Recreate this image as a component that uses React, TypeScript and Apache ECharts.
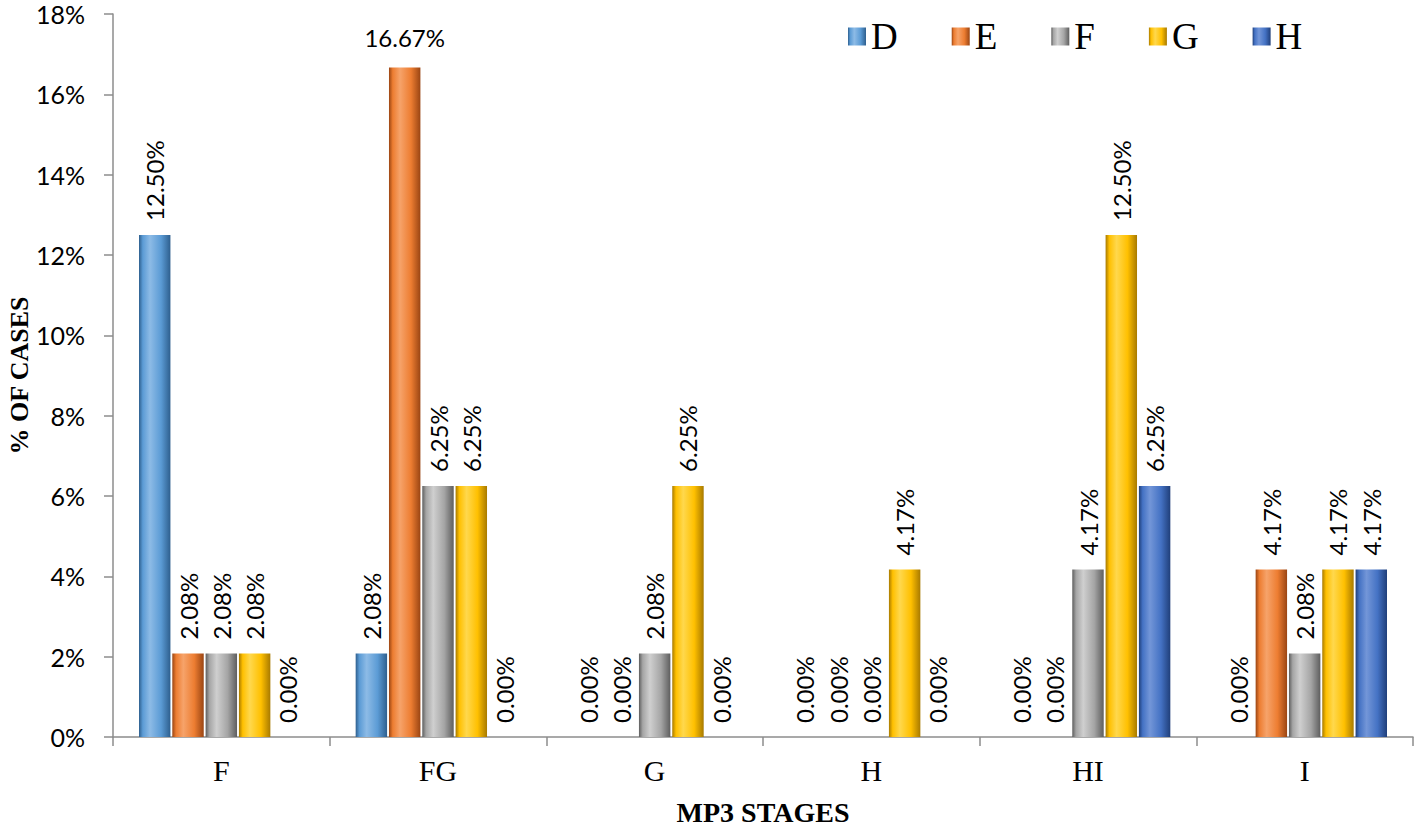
import React, { useEffect, useRef } from "react";
import * as echarts from "echarts";

const categories = ["F", "FG", "G", "H", "HI", "I"];
const seriesNames = ["D", "E", "F", "G", "H"];
const dValues = [12.5, 2.08, 0, 0, 0, 0];
const eValues = [2.08, 16.67, 0, 0, 0, 4.17];
const fValues = [2.08, 6.25, 2.08, 0, 4.17, 2.08];
const gValues = [2.08, 6.25, 6.25, 4.17, 12.5, 4.17];
const hValues = [0, 0, 0, 0, 6.25, 4.17];
const yTicks = { min: 0, max: 18, interval: 2 };

const colors = [
  { base: "#5b9bd5", dark: "#2e5f8e", light: "#8dbbe6" },
  { base: "#ed7d31", dark: "#9a4513", light: "#f6a36a" },
  { base: "#a5a5a5", dark: "#5e5e5e", light: "#cfcfcf" },
  { base: "#ffc000", dark: "#a87a00", light: "#ffd84d" },
  { base: "#4472c4", dark: "#203f7a", light: "#7396d8" },
];

const allValues = [dValues, eValues, fValues, gValues, hValues];

function grad(c: { base: string; dark: string; light: string }) {
  return new echarts.graphic.LinearGradient(0, 0, 1, 0, [
    { offset: 0, color: c.dark },
    { offset: 0.12, color: c.base },
    { offset: 0.35, color: c.light },
    { offset: 0.7, color: c.base },
    { offset: 1, color: c.dark },
  ]);
}

export default function App() {
  const ref = useRef<HTMLDivElement>(null);
  useEffect(() => {
    if (!ref.current) return;
    const chart = echarts.init(ref.current, null, { renderer: "svg" });
    const labelFont = { fontFamily: "Lato", fontSize: 24, color: "#000" };
    chart.setOption({
      animation: false,
      grid: {
        left: 113,
        right: 5,
        top: 14,
        bottom: 89,
        containLabel: false,
        outerBoundsMode: "none",
      },
      legend: {
        data: seriesNames.map((n, i) => ({
          name: n,
          itemStyle: { color: grad(colors[i]) },
        })),
        left: 843,
        top: 13,
        icon: "rect",
        itemWidth: 18,
        itemHeight: 18,
        itemGap: 54,
        textStyle: {
          fontFamily: "Liberation Serif",
          fontSize: 37,
          color: "#000",
        },
      },
      xAxis: {
        type: "category",
        data: categories,
        name: "MP3 STAGES",
        nameLocation: "middle",
        nameGap: 61,
        nameTextStyle: {
          fontFamily: "Liberation Serif",
          fontWeight: "bold",
          fontSize: 28,
          color: "#000",
        },
        axisLine: { lineStyle: { color: "#8c8c8c", width: 1.5 } },
        axisTick: { show: true, length: 9, lineStyle: { color: "#8c8c8c", width: 1.5 } },
        axisLabel: {
          fontFamily: "Liberation Serif",
          fontSize: 30,
          color: "#000",
          margin: 18,
        },
      },
      yAxis: {
        type: "value",
        min: yTicks.min,
        max: yTicks.max,
        interval: yTicks.interval,
        name: "% OF CASES",
        nameLocation: "middle",
        nameGap: 80,
        nameRotate: 90,
        nameMoveOverlap: false,
        nameTextStyle: {
          fontFamily: "Liberation Serif",
          fontWeight: "bold",
          fontSize: 26,
          lineHeight: 28,
          color: "#000",
        },
        axisLine: { show: true, lineStyle: { color: "#8c8c8c", width: 1.5 } },
        axisTick: { show: true, length: 9, lineStyle: { color: "#8c8c8c", width: 1.5 } },
        splitLine: { show: false },
        axisLabel: {
          formatter: "{value}%",
          fontFamily: "Lato",
          fontSize: 25,
          lineHeight: 20,
          color: "#000",
          margin: 28,
        },
      },
      series: seriesNames.map((name, i) => ({
        name,
        type: "bar",
        barGap: "6%",
        barCategoryGap: "24%",
        itemStyle: {
          color: grad(colors[i]),
          borderWidth: 0,
        },
        label: {
          show: true,
          position: "top",
          rotate: 90,
          align: "left",
          verticalAlign: "middle",
          distance: 14,
          formatter: (p: any) => Number(p.value).toFixed(2) + "%",
          ...labelFont,
        },
        data: allValues[i].map((v) =>
          v > 15
            ? {
                value: v,
                label: {
                  rotate: 0,
                  align: "center",
                  verticalAlign: "bottom",
                  distance: 18,
                },
              }
            : v
        ),
      })),
    });
    return () => chart.dispose();
  }, []);
  return <div ref={ref} style={{ width: 1418, height: 826, position: "absolute", left: 0, top: 0 }} />;
}
